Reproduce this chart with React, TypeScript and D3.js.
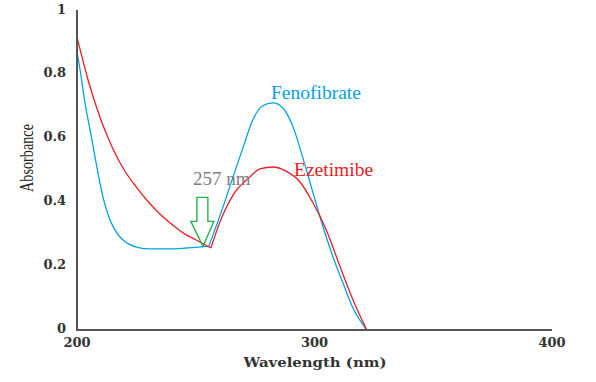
import React from "react";
import * as d3 from "d3";

const fenoWl = [200, 201.3, 203.4, 205.5, 207.6, 209.7, 211.8, 213.9, 216.8, 219.4, 225, 231, 239, 246, 251, 255.5, 261.5, 265.7, 270, 274, 278, 282.5, 286.7, 291, 295, 299.4, 303.6, 307.8, 312, 316, 322];
const fenoAbs = [0.871, 0.815, 0.71, 0.627, 0.542, 0.46, 0.392, 0.345, 0.304, 0.282, 0.26, 0.254, 0.254, 0.257, 0.26, 0.262, 0.386, 0.48, 0.574, 0.658, 0.702, 0.712, 0.696, 0.636, 0.542, 0.429, 0.323, 0.229, 0.147, 0.072, 0];
const fenoKink = 255.5;

const ezeWl = [200, 205, 210, 215, 220, 225, 230, 235, 240, 245, 250, 256.4, 260, 265.7, 272.8, 277, 282.5, 288, 293.9, 299.4, 305, 310.7, 316, 322];
const ezeAbs = [0.918, 0.775, 0.66, 0.57, 0.5, 0.448, 0.402, 0.363, 0.331, 0.303, 0.283, 0.257, 0.335, 0.423, 0.48, 0.505, 0.511, 0.498, 0.464, 0.398, 0.313, 0.2, 0.098, 0];
const ezeKink = 256.4;

const xTicks = [200, 300, 400];
const yTicks = [0, 0.2, 0.4, 0.6, 0.8, 1];
const yTickLabels = ["0", "0.2", "0.4", "0.6", "0.8", "1"];

const W = 596;
const H = 382;
const BLUE = "#00a2e8";
const RED = "#ed1c24";
const GREEN = "#22b14c";

export default function App() {
  const x = d3.scaleLinear().domain([200, 400]).range([77, 552]);
  const y = d3.scaleLinear().domain([0, 1]).range([330, 11]);

  const line = d3
    .line<[number, number]>()
    .x((d) => x(d[0]))
    .y((d) => y(d[1]))
    .curve(d3.curveMonotoneX);

  const paths = (wl: number[], ab: number[], kink: number) => {
    const pts: [number, number][] = wl.map((w, i) => [w, ab[i]]);
    const a = pts.filter((p) => p[0] <= kink);
    const b = pts.filter((p) => p[0] >= kink);
    return [line(a) || "", line(b) || ""];
  };

  const feno = paths(fenoWl, fenoAbs, fenoKink);
  const eze = paths(ezeWl, ezeAbs, ezeKink);

  // arrow pointing at the 257 nm isosbestic point
  const tx = x(253);
  const ty = y(0.262);
  const arrow = [
    [tx - 6, ty - 49],
    [tx + 5, ty - 49],
    [tx + 5, ty - 25],
    [tx + 11, ty - 25],
    [tx, ty],
    [tx - 12, ty - 25],
    [tx - 6, ty - 25],
  ]
    .map((p) => p.join(","))
    .join(" ");

  const tickFont = "'DejaVu Serif', serif";

  return (
    <svg width={W} height={H} style={{ position: "absolute", left: 0, top: 0, background: "#fff" }}>
      <rect x={0} y={0} width={W} height={H} fill="#fff" />
      {feno.map((d, i) => (
        <path key={"f" + i} d={d} fill="none" stroke={BLUE} strokeWidth={1.3} />
      ))}
      {eze.map((d, i) => (
        <path key={"e" + i} d={d} fill="none" stroke={RED} strokeWidth={1.3} />
      ))}
      <line x1={x(200)} x2={x(400)} y1={y(0)} y2={y(0)} stroke="#555" strokeWidth={2} />
      <line x1={x(200)} x2={x(200)} y1={y(0) + 1} y2={10} stroke="#555" strokeWidth={2} />
      {yTicks.map((v, i) => (
        <text
          key={"yt" + i}
          x={66}
          y={y(v) - 1}
          textAnchor="end"
          dominantBaseline="middle"
          fontFamily={tickFont}
          fontWeight="bold"
          fontSize={13}
          fill="#333"
        >
          {yTickLabels[i]}
        </text>
      ))}
      {xTicks.map((v) => (
        <text
          key={"xt" + v}
          x={x(v)}
          y={347}
          textAnchor="middle"
          fontFamily={tickFont}
          fontWeight="bold"
          fontSize={13}
          fill="#333"
        >
          {v}
        </text>
      ))}
      <text
        x={315}
        y={367}
        textAnchor="middle"
        fontFamily={tickFont}
        fontWeight="bold"
        fontSize={13.5}
        fill="#333"
        textLength={143}
        lengthAdjust="spacingAndGlyphs"
      >
        Wavelength (nm)
      </text>
      <text
        transform="translate(33,158) rotate(-90)"
        textAnchor="middle"
        fontFamily="'Liberation Serif', serif"
        fontSize={19}
        fill="#222"
        textLength={68}
        lengthAdjust="spacingAndGlyphs"
      >
        Absorbance
      </text>
      <polygon points={arrow} fill="none" stroke={GREEN} strokeWidth={1.4} />
      <text x={193} y={185} fontFamily="'Liberation Serif', serif" fontSize={19} fill="#7f7f7f">
        257 nm
      </text>
      <text x={271} y={99} fontFamily="'Liberation Serif', serif" fontSize={19.5} fill={BLUE}>
        Fenofibrate
      </text>
      <text x={294} y={176} fontFamily="'Liberation Serif', serif" fontSize={19.5} fill={RED}>
        Ezetimibe
      </text>
    </svg>
  );
}
